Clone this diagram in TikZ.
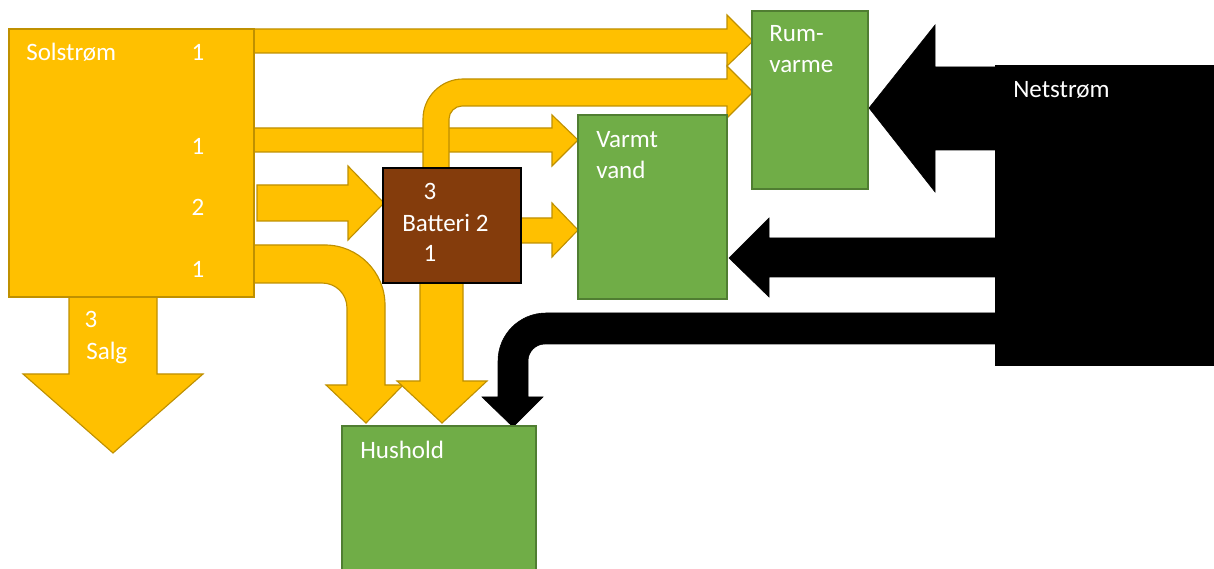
\documentclass[tikz,border=0pt]{standalone}
\usepackage{fontspec}
\setmainfont{Carlito}
\usepackage{tikz}
\usetikzlibrary{calc}
\definecolor{solgul}{RGB}{255,192,0}
\definecolor{solkant}{RGB}{191,144,0}
\definecolor{forbrug}{RGB}{112,173,71}
\definecolor{forbrugkant}{RGB}{80,126,50}
\definecolor{batteribrun}{RGB}{132,60,12}

\tikzset{
  solpil/.style={fill=solgul,draw=solkant,line width=0.8pt},
  netpil/.style={fill=black,draw=black,line width=0.4pt},
  forbrugboks/.style={fill=forbrug,draw=forbrugkant,line width=1pt},
  tekst/.style={font=\fontsize{17.8}{22}\selectfont,text=white,
                inner sep=0pt,anchor=base west}
}

\begin{document}
\begin{tikzpicture}[x=0.025cm,y=-0.025cm]
  \useasboundingbox (0,0) rectangle (1214,569);
  %% Pile fra solstroem
  \draw[solpil] (254,29) -- (727,29) -- (727,15) -- (753,41)
    -- (727,66) -- (727,53) -- (254,53) -- cycle;
  \draw[solpil] (254,128) -- (552,128) -- (552,115) -- (578,140)
    -- (552,166) -- (552,152) -- (254,152) -- cycle;
  \draw[solpil] (257,185) -- (348,185) -- (348,166) -- (384,203)
    -- (348,240) -- (348,221) -- (257,221) -- cycle;
  \draw[solpil] (521,218) -- (552,218) -- (552,203) -- (578,230)
    -- (552,257) -- (552,243) -- (521,243) -- cycle;
  %% Salg
  \draw[solpil] (69,296) -- (69,374) -- (23,374) -- (113,453)
    -- (203,374) -- (157,374) -- (157,296) -- cycle;
  %% Buet pil til hushold
  \draw[solpil] (254,245) -- (325,245)
    .. controls (358,245) and (385,272) .. (385,305)
    -- (385,385) -- (403,385) -- (366,423) -- (326,385) -- (347,385)
    -- (347,308) .. controls (347,294) and (336,283) .. (322,283)
    -- (254,283) -- cycle;
  %% Batteri til rumvarme
  \draw[solpil] (423,168) -- (423,119)
    .. controls (423,97) and (441,79) .. (463,79)
    -- (727,79) -- (727,66) -- (753,92) -- (727,118) -- (727,106)
    -- (462,106) .. controls (455,106) and (449,112) .. (449,119)
    -- (449,168) -- cycle;
  %% Batteri til hushold
  \draw[solpil] (420,283) -- (420,381) -- (397,381) -- (442,423)
    -- (487,381) -- (463,381) -- (463,283) -- cycle;
  %% Netstroem
  \draw[netpil] (995,67) -- (935,67) -- (935,25) -- (869,108)
    -- (935,192) -- (935,150) -- (995,150) -- cycle;
  \draw[netpil] (995,238) -- (769,238) -- (769,218) -- (729,258)
    -- (769,297) -- (769,277) -- (995,277) -- cycle;
  \draw[netpil] (995,313) -- (546,313)
    .. controls (519.5,313) and (498,334.5) .. (498,361)
    -- (498,397) -- (482,397) -- (513,427) -- (543,397) -- (528,397)
    -- (528,361) .. controls (528,351.6) and (535.6,344) .. (545,344)
    -- (995,344) -- cycle;
  %% Kasser
  \draw[solpil] (9,29) rectangle (254,297);
  \draw[fill=batteribrun,draw=black,line width=1.4pt] (383,168) rectangle (521,283);
  \draw[forbrugboks] (578,115) rectangle (727,299);
  \draw[forbrugboks] (752,11) rectangle (868,189);
  \draw[forbrugboks] (342,426) rectangle (536,572);
  \fill[black] (995,65) rectangle (1214,366);
  %% Tekster
  \node[tekst] (solstrom) at (26,61) {Solstrøm};
  \node[tekst,anchor=base] (sol1) at (198,61) {1};
  \node[tekst,anchor=base] (sol2) at (198,155) {1};
  \node[tekst,anchor=base] (sol3) at (198,216) {2};
  \node[tekst,anchor=base] (sol4) at (198,278) {1};
  \node[tekst,anchor=base] (bat3) at (430,200) {3};
  \node[tekst] (batteri) at (402,232) {Batteri 2};
  \node[tekst,anchor=base] (bat1) at (430,262) {1};
  \node[tekst] (varmt) at (596,148) {Varmt};
  \node[tekst] (vand) at (596,179) {vand};
  \node[tekst] (rum) at (769,42) {Rum-};
  \node[tekst] (varme) at (769,73) {varme};
  \node[tekst] (netstrom) at (1013,98) {Netstrøm};
  \node[tekst,anchor=base] (salg3) at (91,328) {3};
  \node[tekst] (salg) at (86,360) {Salg};
  \node[tekst] (hushold) at (360,458) {Hushold};
\end{tikzpicture}
\end{document}
